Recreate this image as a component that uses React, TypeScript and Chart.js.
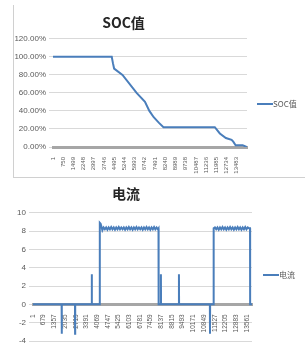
import React, { useEffect, useRef } from "react";
import { Chart, registerables } from "chart.js";

Chart.register(...registerables);

// ---------- data ----------
const socTitle = "SOC值";
const socTicks = [1, 750, 1499, 2248, 2997, 3746, 4495, 5244, 5993, 6742, 7491, 8240, 8989, 9738, 10487, 11236, 11985, 12734, 13483];
const socX = [1, 4313, 4400, 4486, 5102, 6137, 6753, 7073, 7393, 7763, 8108, 11877, 12247, 12690, 13109, 13232, 13405, 13922, 14217, 14240];
const socY = [100, 100, 93, 87, 80, 60, 50, 40, 33, 27, 22, 22, 15, 10, 8, 6, 2, 2, 0, 0];

const curTitle = "电流";
const curTicks = [1, 679, 1357, 2035, 2713, 3391, 4069, 4747, 5425, 6103, 6781, 7459, 8137, 8815, 9493, 10171, 10849, 11527, 12205, 12883, 13561];
const curX = [
  1, 1815, 1823, 1831, 2662, 2670, 2678, 3721, 3729, 3737, 4230, 4238, 4290, 4340, 4400,
  4480, 4560, 4640, 4720, 4800, 4880, 4960, 5040, 5120, 5200, 5280, 5360, 5440, 5520,
  5600, 5680, 5760, 5840, 5920, 6000, 6080, 6160, 6240, 6320, 6400, 6480, 6560, 6640,
  6720, 6800, 6880, 6960, 7040, 7120, 7200, 7280, 7360, 7440, 7520, 7600, 7680, 7760,
  7840, 7920, 7960, 7968,
  8105, 8113, 8121, 9249, 9257, 9265, 11218, 11226, 11234, 11451, 11459,
  11540, 11620, 11700, 11780, 11860, 11940, 12020, 12100, 12180, 12260, 12340, 12420,
  12500, 12580, 12660, 12740, 12820, 12900, 12980, 13060, 13140, 13220, 13300, 13380,
  13460, 13540, 13620, 13700, 13765, 13772, 13890,
];
const curY = [
  0, 0, -3.2, 0, 0, -3.2, 0, 0, 3.3, 0, 0, 8.9, 8.8, 8.5, 8.1,
  8.4, 8.2, 8.4, 8.15, 8.4, 8.2, 8.45, 8.2, 8.4, 8.15, 8.4, 8.2, 8.45, 8.2,
  8.4, 8.2, 8.4, 8.15, 8.4, 8.2, 8.45, 8.2, 8.4, 8.15, 8.4, 8.2, 8.45, 8.2,
  8.4, 8.2, 8.4, 8.15, 8.4, 8.2, 8.45, 8.2, 8.4, 8.15, 8.4, 8.2, 8.45, 8.2,
  8.4, 8.2, 8.3, 0,
  0, 3.3, 0, 0, 3.3, 0, 0, -3.2, 0, 0, 8.3,
  8.4, 8.2, 8.4, 8.15, 8.4, 8.2, 8.45, 8.2, 8.4, 8.15, 8.4, 8.2,
  8.45, 8.2, 8.4, 8.15, 8.4, 8.2, 8.45, 8.2, 8.4, 8.15, 8.4, 8.2,
  8.45, 8.2, 8.4, 8.3, 8.3, 0, 0,
];

const LINE = "#4a7ebb";
const TXT = "#595959";
const GRID = "#d9d9d9";
const AXIS = "#a6a6a6";
const NUM_FONT = "'Liberation Sans', Arial, sans-serif";
const CJK_FONT = "'Noto Sans CJK SC', 'Liberation Sans', sans-serif";

function legendPlugin(label: string, dx: number, y: number) {
  return {
    id: "fixedLegend",
    afterDraw(chart: any) {
      const { ctx, chartArea } = chart;
      const x = chartArea.right + dx;
      ctx.save();
      ctx.strokeStyle = LINE;
      ctx.lineWidth = 2;
      ctx.beginPath();
      ctx.moveTo(x, y);
      ctx.lineTo(x + 16, y);
      ctx.stroke();
      ctx.fillStyle = TXT;
      ctx.font = `8px ${CJK_FONT}`;
      ctx.textBaseline = "middle";
      ctx.textAlign = "left";
      ctx.fillText(label, x + 16, y);
      ctx.restore();
    },
  };
}

function SocChart() {
  const ref = useRef<HTMLCanvasElement>(null);
  useEffect(() => {
    const chart = new Chart(ref.current!, {
      type: "line",
      data: {
        datasets: [
          {
            label: socTitle,
            data: socX.map((x, i) => ({ x, y: socY[i] })),
            borderColor: LINE,
            borderWidth: 2,
            pointRadius: 0,
            tension: 0,
          },
        ],
      },
      options: {
        animation: false,
        responsive: false,
        layout: { padding: { left: 0, right: 58, top: 0, bottom: 0 } },
        plugins: {
          legend: { display: false },
          tooltip: { enabled: false },
          title: {
            display: true,
            text: socTitle,
            color: "#262626",
            font: { size: 14, weight: "bold", family: CJK_FONT },
            padding: { top: 14, bottom: 8 },
          },
        },
        scales: {
          x: {
            type: "linear",
            min: 1,
            max: 14240,
            afterBuildTicks: (s: any) => {
              s.ticks = socTicks.map((v) => ({ value: v }));
            },
            afterFit: (s: any) => {
              s.height = 31;
            },
            grid: { display: false },
            border: { display: true, color: AXIS, width: 3 },
            ticks: {
              autoSkip: false,
              maxRotation: 90,
              minRotation: 90,
              padding: 2,
              color: TXT,
              font: { size: 6, family: NUM_FONT },
              callback: (v: any) => String(v),
            },
          },
          y: {
            min: 0,
            max: 120,
            afterFit: (s: any) => {
              s.width = 53;
            },
            border: { display: false },
            grid: { color: GRID, tickLength: 4 },
            ticks: {
              stepSize: 20,
              padding: 3,
              color: TXT,
              font: { size: 8, family: NUM_FONT },
              callback: (v: any) => Number(v).toFixed(2) + "%",
            },
          },
        },
      },
      plugins: [legendPlugin(socTitle, 10, 104)],
    } as any);
    return () => chart.destroy();
  }, []);
  return (
    <canvas
      ref={ref}
      width={305}
      height={178}
      style={{ position: "absolute", left: 0, top: 0, width: 305, height: 178 }}
    />
  );
}

function CurChart() {
  const ref = useRef<HTMLCanvasElement>(null);
  useEffect(() => {
    const chart = new Chart(ref.current!, {
      type: "line",
      data: {
        datasets: [
          {
            label: curTitle,
            data: curX.map((x, i) => ({ x, y: curY[i] })),
            borderColor: LINE,
            borderWidth: 2,
            pointRadius: 0,
            tension: 0,
          },
        ],
      },
      options: {
        animation: false,
        responsive: false,
        layout: { padding: { left: 0, right: 53, top: 0, bottom: 8 } },
        plugins: {
          legend: { display: false },
          tooltip: { enabled: false },
          title: {
            display: true,
            text: curTitle,
            color: "#262626",
            font: { size: 14, weight: "bold", family: CJK_FONT },
            padding: { top: 7, bottom: 11 },
          },
        },
        scales: {
          x: {
            type: "linear",
            position: { y: 0 },
            min: 1,
            max: 13890,
            afterBuildTicks: (s: any) => {
              s.ticks = curTicks.map((v) => ({ value: v }));
            },
            grid: { display: false },
            border: { display: true, color: AXIS, width: 3 },
            ticks: {
              autoSkip: false,
              maxRotation: 90,
              minRotation: 90,
              padding: 2,
              color: TXT,
              font: { size: 6.5, family: NUM_FONT },
              callback: (v: any) => String(v),
            },
          },
          y: {
            min: -4,
            max: 10,
            afterFit: (s: any) => {
              s.width = 33;
            },
            border: { display: false },
            grid: { color: GRID, tickLength: 4 },
            ticks: {
              stepSize: 2,
              padding: 3,
              color: TXT,
              font: { size: 8, family: NUM_FONT },
              callback: (v: any) => String(v),
            },
          },
        },
      },
      plugins: [legendPlugin(curTitle, 11, 97)],
    } as any);
    return () => chart.destroy();
  }, []);
  return (
    <canvas
      ref={ref}
      width={305}
      height={171}
      style={{ position: "absolute", left: 0, top: 178, width: 305, height: 171 }}
    />
  );
}

export default function App() {
  return (
    <div
      style={{
        position: "fixed",
        left: 0,
        top: 0,
        width: 305,
        height: 349,
        background: "#ffffff",
        overflow: "hidden",
      }}
    >
      <div
        style={{
          position: "absolute",
          left: 13,
          top: 5,
          width: 292,
          height: 173,
          borderLeft: "1px solid #d0d0d0",
          borderBottom: "1px solid #d0d0d0",
          boxSizing: "border-box",
        }}
      />
      <SocChart />
      <CurChart />
    </div>
  );
}
